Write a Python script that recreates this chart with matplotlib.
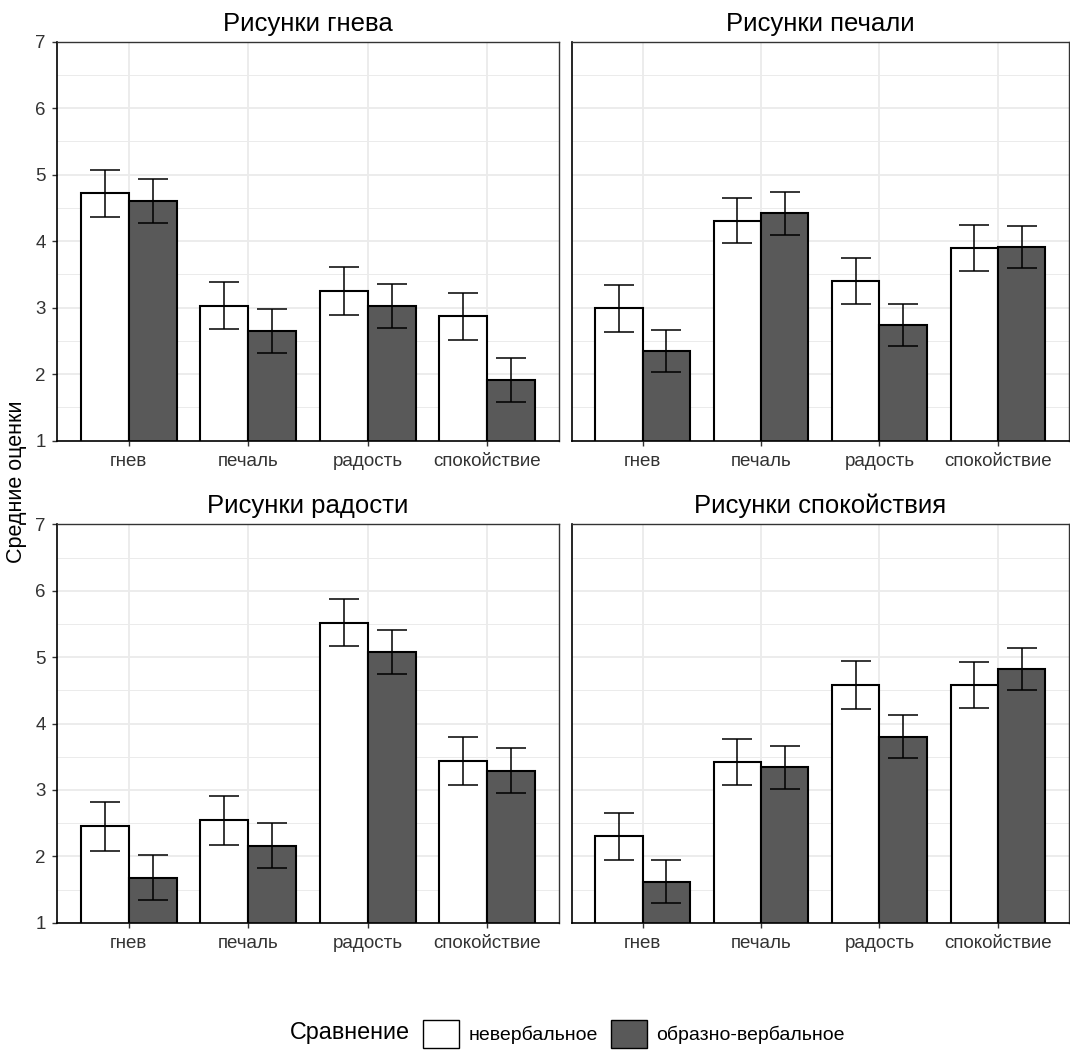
import matplotlib
matplotlib.use("Agg")
import matplotlib.pyplot as plt
from matplotlib.patches import Patch
import numpy as np

plt.rcParams['font.family'] = ['Liberation Sans', 'DejaVu Sans']

categories = ["гнев", "печаль", "радость", "спокойствие"]
panel_titles = ["Рисунки гнева", "Рисунки печали", "Рисунки радости", "Рисунки спокойствия"]
series_names = ["невербальное", "образно-вербальное"]

nonverbal_means = [
    [4.72, 3.03, 3.25, 2.87],
    [2.99, 4.31, 3.40, 3.90],
    [2.45, 2.54, 5.52, 3.44],
    [2.30, 3.42, 4.58, 4.58],
]
nonverbal_err = [
    [0.355, 0.355, 0.36, 0.355],
    [0.35, 0.34, 0.35, 0.345],
    [0.365, 0.365, 0.36, 0.36],
    [0.35, 0.35, 0.355, 0.35],
]
verbal_means = [
    [4.61, 2.65, 3.03, 1.91],
    [2.35, 4.42, 2.74, 3.91],
    [1.68, 2.16, 5.08, 3.29],
    [1.62, 3.34, 3.80, 4.82],
]
verbal_err = [
    [0.33, 0.335, 0.33, 0.335],
    [0.32, 0.325, 0.32, 0.32],
    [0.335, 0.335, 0.33, 0.34],
    [0.325, 0.325, 0.325, 0.32],
]

W, H = 1070, 1050
fig = plt.figure(figsize=(W / 100, H / 100), dpi=100)

# panel boxes in pixels (left, top, right, bottom)
boxes = [
    (57, 41.7, 559, 440.7),
    (571.5, 41.7, 1069, 440.7),
    (57, 524.3, 559, 922.7),
    (571.5, 524.3, 1069, 922.7),
]

fills = ["white", "#595959"]
grid_col = "#EBEBEB"
x = np.arange(1, len(categories) + 1)
bw = 0.4

for i, (l, t, r, b) in enumerate(boxes):
    ax = fig.add_axes([l / W, 1 - b / H, (r - l) / W, (b - t) / H])
    ax.set_xlim(0.4, 4.6)
    ax.set_ylim(1, 7)
    ax.set_yticks(range(1, 8))
    ax.set_yticks(np.arange(1.5, 7, 1.0), minor=True)
    ax.set_xticks(x)
    ax.set_xticklabels(categories)
    ax.grid(True, which="major", color=grid_col, linewidth=1.3, zorder=0)
    ax.grid(True, which="minor", axis="y", color=grid_col, linewidth=0.7, zorder=0)
    ax.set_axisbelow(True)
    ax.tick_params(axis="both", which="major", length=3.5, width=1.0, color="#333333",
                   labelsize=13.5, labelcolor="#333333")
    ax.tick_params(axis="x", pad=5.5)
    ax.tick_params(axis="y", pad=4.5)
    ax.tick_params(axis="y", which="minor", length=0)
    if i % 2 == 1:
        ax.tick_params(axis="y", labelleft=False, length=0)
    for s in ["top", "right"]:
        ax.spines[s].set_color("#333333")
        ax.spines[s].set_linewidth(1.0)
    for s in ["left", "bottom"]:
        ax.spines[s].set_color("black")
        ax.spines[s].set_linewidth(1.2)

    for k, (means, errs) in enumerate([(nonverbal_means[i], nonverbal_err[i]),
                                         (verbal_means[i], verbal_err[i])]):
        xs = x - bw / 2 + k * bw
        ax.bar(xs, means, width=bw, bottom=0, color=fills[k], edgecolor="black",
               linewidth=1.5, zorder=2)
        ax.errorbar(xs, means, yerr=errs, fmt="none", ecolor="black", elinewidth=1.1,
                    capsize=11, capthick=1.1, zorder=3)

    ax.set_title(panel_titles[i], fontsize=18.5, color="black", pad=8)

fig.text(17 / W, 1 - 482 / H, "Средние оценки", rotation=90, fontsize=15.5,
         ha="center", va="center")

# legend
handles = [Patch(facecolor=fills[k], edgecolor="black", linewidth=1.0, label=series_names[k])
           for k in range(2)]
fig.text(290 / W, 1 - 1033 / H, "Сравнение", fontsize=16.8, ha="left", va="center")
fig.legend(handles=handles, loc="center left", bbox_to_anchor=(423 / W, 1 - 1034 / H),
           ncol=2, frameon=False, fontsize=14, handlelength=1.85, handleheight=1.85,
           handletextpad=0.5, columnspacing=0.65, borderpad=0, borderaxespad=0)

fig.savefig("out.png", dpi=100, facecolor="white")
